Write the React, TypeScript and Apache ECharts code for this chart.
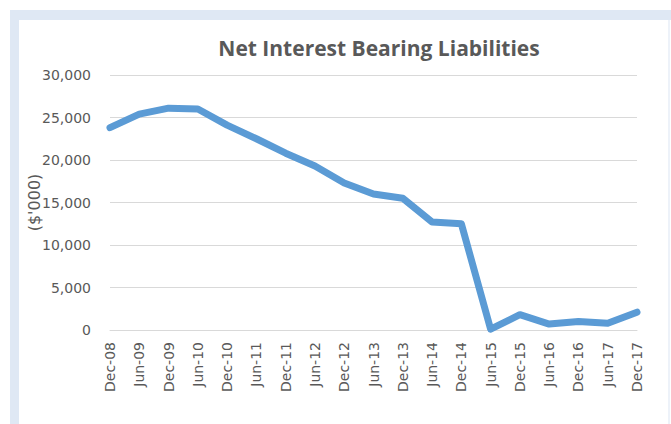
import React, { useEffect, useRef } from "react";
import * as echarts from "echarts";

const categories = [
  "Dec-08", "Jun-09", "Dec-09", "Jun-10", "Dec-10", "Jun-11", "Dec-11",
  "Jun-12", "Dec-12", "Jun-13", "Dec-13", "Jun-14", "Dec-14", "Jun-15",
  "Dec-15", "Jun-16", "Dec-16", "Jun-17", "Dec-17",
];
const liabilities = [
  23800, 25400, 26100, 26000, 24100, 22500, 20800, 19300, 17300, 16000,
  15500, 12700, 12500, 100, 1800, 700, 1000, 800, 2100,
];
const yTicks = { min: 0, max: 30000, interval: 5000 };
const titleText = "Net Interest Bearing Liabilities";
const yAxisName = "($'000)";

export default function App() {
  const ref = useRef<HTMLDivElement>(null);
  useEffect(() => {
    if (!ref.current) return;
    const chart = echarts.init(ref.current, null, { renderer: "svg" });
    const labelColor = "#595959";
    const frame = "#dfe8f4";
    chart.setOption({
      animation: false,
      backgroundColor: "#ffffff",
      title: {
        text: titleText,
        left: 374,
        top: 32,
        textAlign: "center",
        textStyle: {
          fontFamily: "Open Sans",
          fontWeight: "bold",
          fontSize: 21,
          color: labelColor,
        },
      },
      grid: { left: 110, right: 34, top: 75, bottom: 94, containLabel: false },
      xAxis: {
        type: "category",
        data: categories,
        boundaryGap: false,
        axisLine: { lineStyle: { color: "#d9d9d9", width: 1 } },
        axisTick: { show: false },
        axisLabel: {
          rotate: 90,
          interval: 0,
          margin: 12,
          fontFamily: "DejaVu Sans",
          fontSize: 14,
          color: labelColor,
        },
      },
      yAxis: {
        type: "value",
        min: yTicks.min,
        max: yTicks.max,
        interval: yTicks.interval,
        name: yAxisName,
        nameLocation: "middle",
        nameRotate: 90,
        nameGap: 68,
        nameMoveOverlap: false,
        nameTextStyle: {
          fontFamily: "DejaVu Sans",
          fontSize: 16,
          color: labelColor,
        },
        axisLine: { show: false },
        axisTick: { show: false },
        splitLine: { lineStyle: { color: "#d9d9d9", width: 1 } },
        axisLabel: {
          margin: 19,
          fontFamily: "DejaVu Sans",
          fontSize: 14,
          color: labelColor,
          formatter: (v: number) => v.toLocaleString("en-US"),
        },
      },
      graphic: [
        { type: "rect", shape: { x: 10, y: 10, width: 9, height: 414 }, style: { fill: frame }, silent: true },
        { type: "rect", shape: { x: 10, y: 10, width: 661, height: 10 }, style: { fill: frame }, silent: true },
        { type: "rect", shape: { x: 668, y: 20, width: 2, height: 404 }, style: { fill: "#edf2f9" }, silent: true },
      ],
      series: [
        {
          type: "line",
          data: liabilities,
          showSymbol: false,
          symbol: "none",
          lineStyle: { color: "#5b9bd5", width: 7, join: "round", cap: "round" },
          itemStyle: { color: "#5b9bd5" },
        },
      ],
    });
    return () => chart.dispose();
  }, []);
  return (
    <div
      ref={ref}
      style={{ position: "fixed", left: 0, top: 0, width: 671, height: 424 }}
    />
  );
}
